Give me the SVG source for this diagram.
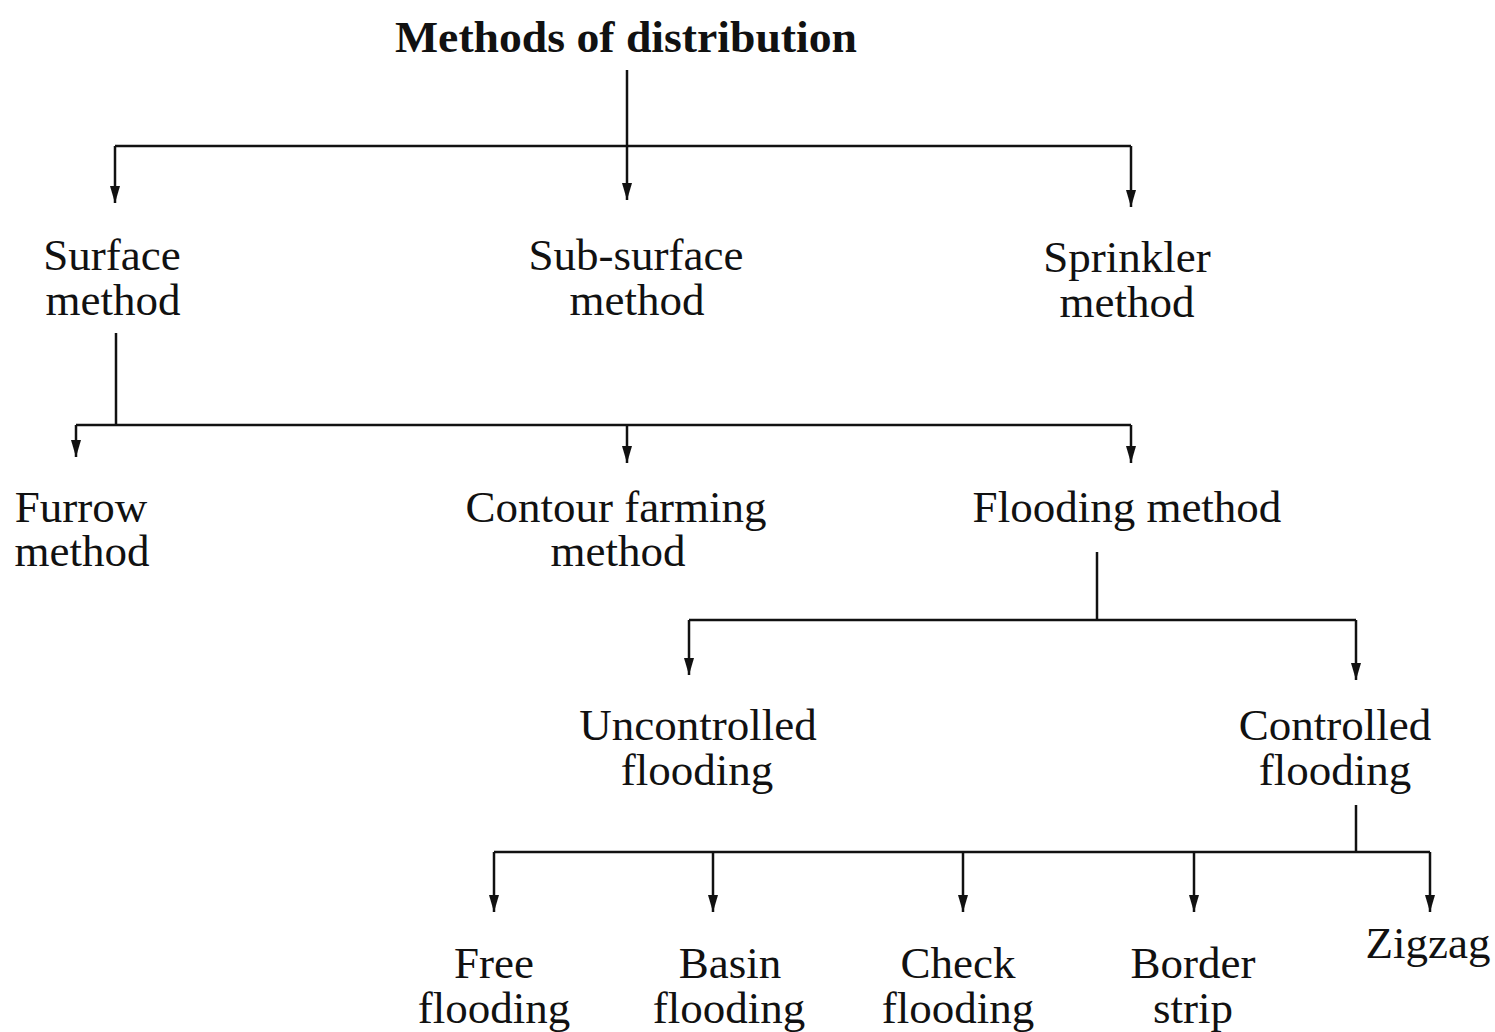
<svg xmlns="http://www.w3.org/2000/svg" width="1495" height="1032" viewBox="0 0 1495 1032">
<style>
  text { font-family: "Liberation Serif", "Times New Roman", serif; fill: #111; text-anchor: middle; }
  .t { font-size: 45px; }
  .title { font-size: 44px; font-weight: bold; }
  .c { fill: none; stroke: #111; stroke-width: 2.5; }
  .a { marker-end: url(#arrow); }
</style>
<defs>
  <marker id="arrow" markerUnits="userSpaceOnUse" markerWidth="17" markerHeight="12" refX="17" refY="6" orient="auto" viewBox="0 0 17 12">
    <path d="M0,1 L17,6 L0,11 Z" fill="#111"/>
  </marker>
</defs>
<rect width="1495" height="1032" fill="#fff"/>

<g id="connectors">
  <path class="c" d="M627,70 V146"/>
  <path class="c" d="M115,146 H1131"/>
  <path class="c a" d="M115,146 V203"/>
  <path class="c a" d="M627,146 V200"/>
  <path class="c a" d="M1131,146 V207"/>
  <path class="c" d="M116,333 V425"/>
  <path class="c" d="M76,425 H1131"/>
  <path class="c a" d="M76,425 V457"/>
  <path class="c a" d="M627,425 V463"/>
  <path class="c a" d="M1131,425 V463"/>
  <path class="c" d="M1097,552 V620"/>
  <path class="c" d="M689,620 H1356"/>
  <path class="c a" d="M689,620 V675"/>
  <path class="c a" d="M1356,620 V680"/>
  <path class="c" d="M1356,805 V852"/>
  <path class="c" d="M494,852 H1430"/>
  <path class="c a" d="M494,852 V912"/>
  <path class="c a" d="M713,852 V912"/>
  <path class="c a" d="M963,852 V912"/>
  <path class="c a" d="M1194,852 V912"/>
  <path class="c a" d="M1430,852 V912"/>
</g>

<g id="root"><text class="title" x="626" y="52" textLength="462" lengthAdjust="spacingAndGlyphs">Methods of distribution</text></g>

<g id="surface"><text class="t" y="270"><tspan x="112">Surface</tspan><tspan x="113" dy="45">method</tspan></text></g>
<g id="subsurface"><text class="t" y="270"><tspan x="636">Sub-surface</tspan><tspan x="637" dy="45">method</tspan></text></g>
<g id="sprinkler"><text class="t" y="272"><tspan x="1127">Sprinkler</tspan><tspan x="1127" dy="45">method</tspan></text></g>

<g id="furrow"><text class="t" y="522"><tspan x="81">Furrow</tspan><tspan x="82" dy="44">method</tspan></text></g>
<g id="contour"><text class="t" y="522"><tspan x="616">Contour farming</tspan><tspan x="618" dy="44">method</tspan></text></g>
<g id="flooding"><text class="t" x="1127" y="522">Flooding method</text></g>

<g id="uncontrolled"><text class="t" y="740"><tspan x="698">Uncontrolled</tspan><tspan x="697" dy="45">flooding</tspan></text></g>
<g id="controlled"><text class="t" y="740"><tspan x="1335">Controlled</tspan><tspan x="1335" dy="45">flooding</tspan></text></g>

<g id="free"><text class="t" y="978"><tspan x="494">Free</tspan><tspan x="494" dy="45">flooding</tspan></text></g>
<g id="basin"><text class="t" y="978"><tspan x="730">Basin</tspan><tspan x="729" dy="45">flooding</tspan></text></g>
<g id="check"><text class="t" y="978"><tspan x="958">Check</tspan><tspan x="958" dy="45">flooding</tspan></text></g>
<g id="border"><text class="t" y="978"><tspan x="1193">Border</tspan><tspan x="1193" dy="45">strip</tspan></text></g>
<g id="zigzag"><text class="t" x="1428" y="958">Zigzag</text></g>
</svg>
